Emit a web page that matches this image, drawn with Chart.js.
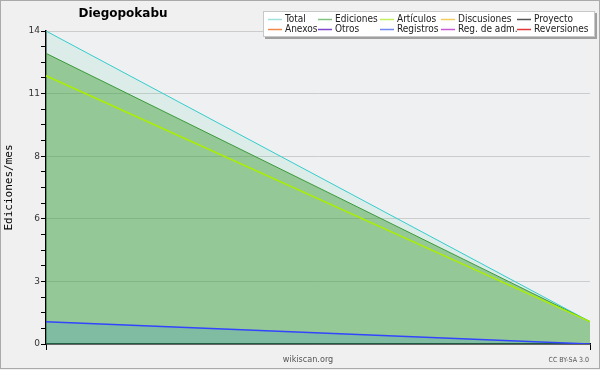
<!DOCTYPE html>
<html>
<head>
<meta charset="utf-8">
<script src="https://cdn.jsdelivr.net/npm/chart.js@4"></script>
<style>
  body { margin: 0; background: #f0f0f0; }
  #wrap { width: 600px; height: 370px; position: relative; }
</style>
</head>
<body>
<div id="wrap"><canvas id="myChart" width="600" height="370"></canvas></div>
<script>
var meses = ["mes 1", "mes 2"];
var total = [14, 1];
var ediciones = [13, 1];
var articulos = [12, 1];
var registros = [1, 0];

var legendNames = ["Total", "Ediciones", "Artículos", "Discusiones", "Proyecto",
                   "Anexos", "Otros", "Registros", "Reg. de adm.", "Reversiones"];
var legendColors = ["#a0e0dc", "#80c480", "#c0f060", "#f0cc60", "#555555",
                    "#f08848", "#8048c8", "#7088f0", "#c858d8", "#e03838"];

var extras = {
  id: "extras",
  beforeDraw: function(chart){
    var ctx = chart.ctx, a = chart.chartArea;
    ctx.save();
    ctx.fillStyle = "#f0f0f0";
    ctx.fillRect(0, 0, 600, 370);
    ctx.fillStyle = "#eff0f2";
    ctx.fillRect(a.left, a.top, a.right - a.left, a.bottom - a.top);
    ctx.restore();
  },
  afterDraw: function(chart){
    var ctx = chart.ctx;
    ctx.save();
    // outer frame
    ctx.strokeStyle = "#aaaaaa";
    ctx.lineWidth = 1;
    ctx.strokeRect(0.5, 0.5, 599, 368);

    // title
    ctx.fillStyle = "#000";
    ctx.font = "bold 12px 'DejaVu Sans'";
    ctx.textAlign = "center";
    ctx.textBaseline = "middle";
    ctx.fillText("Diegopokabu", 123, 14);

    // legend box with shadow
    ctx.fillStyle = "#a0a0a0";
    ctx.fillRect(265, 13, 332, 26);
    ctx.fillStyle = "#ffffff";
    ctx.fillRect(263, 11, 332, 26);
    ctx.strokeStyle = "#c8c8c8";
    ctx.strokeRect(263.5, 11.5, 331, 25);

    var cols = [268, 318, 380, 441, 517];
    var rows = [19, 29];
    ctx.font = "10px 'DejaVu Sans Condensed', 'DejaVu Sans'";
    ctx.textAlign = "left";
    ctx.lineWidth = 1.5;
    for (var i = 0; i < legendNames.length; i++) {
      var x = cols[i % 5], y = rows[Math.floor(i / 5)];
      ctx.strokeStyle = legendColors[i];
      ctx.beginPath();
      ctx.moveTo(x, y + 0.5);
      ctx.lineTo(x + 14, y + 0.5);
      ctx.stroke();
      ctx.fillStyle = "#222";
      ctx.fillText(legendNames[i], x + 17, y);
    }

    // footer texts
    ctx.fillStyle = "#555";
    ctx.font = "9px 'DejaVu Sans Condensed', 'DejaVu Sans'";
    ctx.textAlign = "center";
    ctx.fillText("wikiscan.org", 308, 360);
    ctx.font = "7px 'DejaVu Sans Condensed', 'DejaVu Sans'";
    ctx.textAlign = "right";
    ctx.fillText("CC BY-SA 3.0", 589, 360);
    ctx.restore();
  }
};

new Chart("myChart", {
  type: "line",
  data: {
    labels: meses,
    datasets: [
      { label: "Registros", data: registros, borderColor: "#3344ff", borderWidth: 1.5,
        backgroundColor: "rgba(40,140,210,0.2)", fill: "origin", pointRadius: 0 },
      { label: "Artículos", data: articulos, borderColor: "#aaee00", borderWidth: 1.5,
        fill: false, pointRadius: 0 },
      { label: "Ediciones", data: ediciones, borderColor: "#3a9a3a", borderWidth: 1,
        backgroundColor: "rgba(60,160,60,0.5)", fill: "origin", pointRadius: 0 },
      { label: "Total", data: total, borderColor: "#33cccc", borderWidth: 1,
        backgroundColor: "rgba(80,210,170,0.12)", fill: 2, pointRadius: 0 }
    ]
  },
  options: {
    responsive: false,
    animation: false,
    layout: { padding: { left: 3, right: 10, top: 31, bottom: 20 } },
    plugins: { legend: { display: false }, tooltip: { enabled: false } },
    scales: {
      x: {
        offset: false,
        ticks: { display: false },
        grid: { drawOnChartArea: false, tickLength: 6, tickColor: "#000" },
        border: { color: "#000", width: 1.5 },
        afterFit: function(s){ s.height = 6; }
      },
      y: {
        min: 0, max: 14,
        ticks: {
          stepSize: 0.7,
          autoSkip: false,
          padding: 1,
          color: "#333",
          font: { family: "DejaVu Sans", size: 9 },
          callback: function(v, i){ return i % 4 === 0 ? Math.round(v) : ""; }
        },
        grid: {
          tickLength: 5,
          tickColor: "#000",
          color: function(c){ return c.index % 4 === 0 ? "#cccccc" : "rgba(0,0,0,0)"; }
        },
        border: { color: "#000", width: 1.5 },
        title: { display: true, text: "Ediciones/mes", color: "#000",
                 font: { family: "DejaVu Sans Mono", size: 11 }, padding: 0 },
        afterFit: function(s){ s.width = 43; }
      }
    }
  },
  plugins: [extras]
});
</script>
</body>
</html>
